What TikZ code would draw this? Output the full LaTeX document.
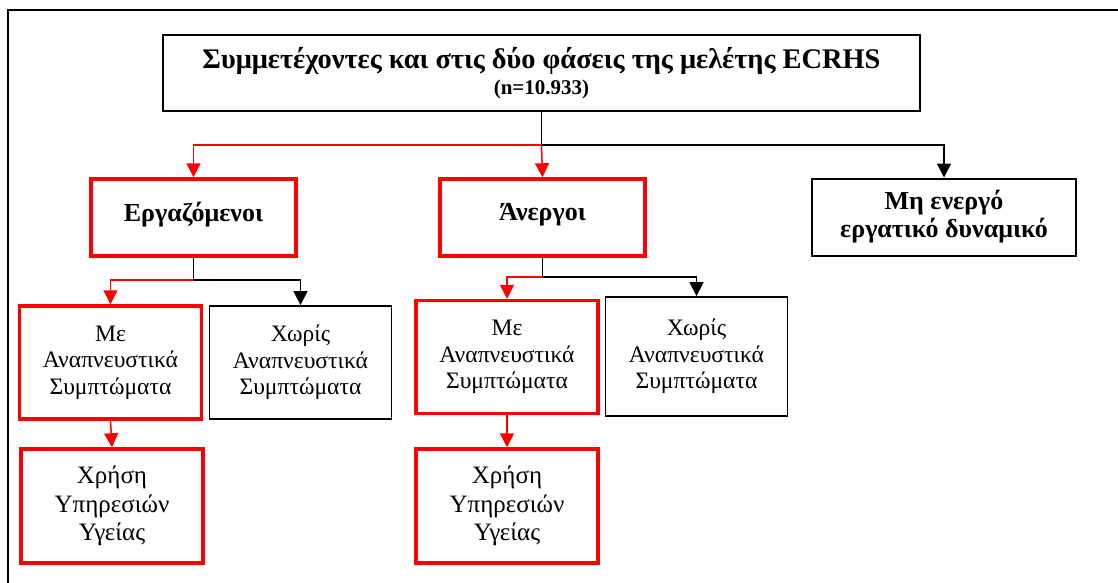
\documentclass[tikz,border=0pt]{standalone}
\usepackage{fontspec}
\setmainfont{Liberation Serif}
\usetikzlibrary{positioning, arrows.meta}

\tikzset{
  topbox/.style={draw, line width=1pt, minimum width=378.5pt, minimum height=38pt, inner sep=0pt, align=center},
  grpbox/.style={draw, line width=1pt, minimum width=102.5pt, minimum height=38.5pt, inner sep=0pt, align=center, font=\fontsize{13}{14}\selectfont\bfseries},
  redgrp/.style={grpbox, draw=red, line width=1.75pt},
  symbox/.style={draw, line width=0.9pt, minimum width=91pt, minimum height=56.5pt, inner sep=0pt, align=center, font=\fontsize{11.8}{13.2}\selectfont},
  redsym/.style={symbox, draw=red, line width=1.75pt},
  usebox/.style={redsym, minimum height=57pt, font=\fontsize{12.5}{14.2}\selectfont},
  blkline/.style={line width=0.75pt},
  redline/.style={line width=0.75pt, red},
  arr/.style={-{Triangle[width=7pt,length=7pt]}}
}

\begin{document}
\begin{tikzpicture}[x=0.5pt, y=-0.5pt]
  \useasboundingbox (0,0) rectangle (1118,583);
  % Frame
  \draw[line width=0.75pt] (8,583) -- (8,10) -- (1118,10);
  % Title
  \node[topbox] (study) at (541.5,73) {{\fontsize{14.2}{15}\selectfont\bfseries Συμμετέχοντες και στις δύο φάσεις της μελέτης ECRHS}\\[1pt]{\fontsize{10.5}{12}\selectfont\bfseries (n=10.933)}};
  % Employment groups
  \node[redgrp] (employed) at (193.5,217.5) {\raisebox{5.5pt}{Εργαζόμενοι}};
  \node[redgrp] (unemployed) at (542.5,217.5) {\raisebox{5.5pt}{Άνεργοι}};
  \node[grpbox, minimum width=132pt] (inactive) at (944,217) {Μη ενεργό\\εργατικό δυναμικό};
  % Symptoms
  \node[redsym] (sympE) at (110.5,362.5) {Με\\Αναπνευστικά\\Συμπτώματα};
  \node[symbox] (nosympE) at (300.5,362.5) {Χωρίς\\Αναπνευστικά\\Συμπτώματα};
  \node[redsym] (sympU) at (507,357) {Με\\Αναπνευστικά\\Συμπτώματα};
  \node[symbox, minimum height=59.5pt] (nosympU) at (696.5,356.5) {Χωρίς\\Αναπνευστικά\\Συμπτώματα};
  % Health services
  \node[usebox] (careE) at (112,506) {Χρήση\\Υπηρεσιών\\Υγείας};
  \node[usebox] (careU) at (507,506) {Χρήση\\Υπηρεσιών\\Υγείας};
  % Junctions
  \coordinate (j0) at (541.5,145);
  \coordinate (j1) at (193.5,280);
  \coordinate (j2) at (542.5,277);
  % Connectors
  \draw[blkline] (study.south) -- (j0);
  \draw[redline, arr] (j0) -| (employed.north);
  \draw[redline, arr] (j0) -- (unemployed.north);
  \draw[blkline, arr] (j0) -| (inactive.north);
  \draw[blkline] (employed.south) -- (j1);
  \draw[redline, arr] (j1) -| (sympE.north);
  \draw[blkline, arr] (j1) -| (nosympE.north);
  \draw[blkline] (unemployed.south) -- (j2);
  \draw[redline, arr] (j2) -| (sympU.north);
  \draw[blkline, arr] (j2) -| (nosympU.north);
  \draw[redline, arr] (sympE.south) -- (careE.north);
  \draw[redline, arr] (sympU.south) -- (careU.north);
\end{tikzpicture}
\end{document}
